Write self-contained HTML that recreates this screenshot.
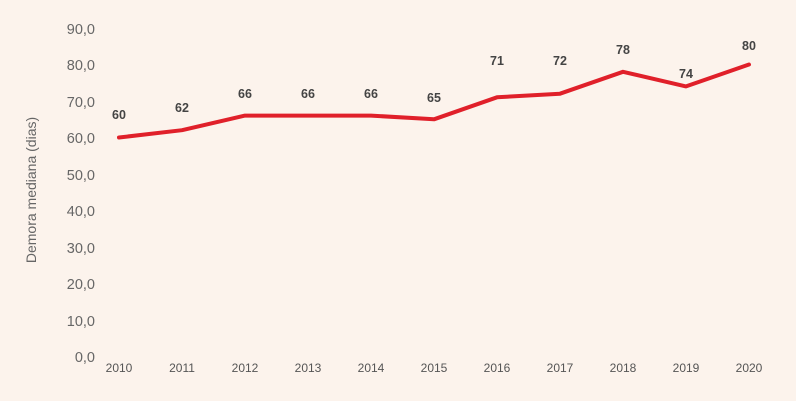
<!DOCTYPE html>
<html><head><meta charset="utf-8"><style>
body{margin:0;background:#fcf3ec;}
svg{display:block;font-family:"Liberation Sans",sans-serif;}
</style></head><body>
<svg width="796" height="401" viewBox="0 0 796 401">
<rect width="796" height="401" fill="#fcf3ec"/>
<g fill="#666" font-size="14.5" text-anchor="end">
<text x="95" y="362">0,0</text>
<text x="95" y="326">10,0</text>
<text x="95" y="289">20,0</text>
<text x="95" y="253">30,0</text>
<text x="95" y="216">40,0</text>
<text x="95" y="180">50,0</text>
<text x="95" y="143">60,0</text>
<text x="95" y="107">70,0</text>
<text x="95" y="70">80,0</text>
<text x="95" y="34">90,0</text>
</g>
<text transform="translate(36,190) rotate(-90)" fill="#666" font-size="14" text-anchor="middle">Demora mediana (dias)</text>
<g fill="#555" font-size="12" text-anchor="middle">
<text x="119" y="372">2010</text><text x="182" y="372">2011</text><text x="245" y="372">2012</text>
<text x="308" y="372">2013</text><text x="371" y="372">2014</text><text x="434" y="372">2015</text>
<text x="497" y="372">2016</text><text x="560" y="372">2017</text><text x="623" y="372">2018</text>
<text x="686" y="372">2019</text><text x="749" y="372">2020</text>
</g>
<polyline fill="none" stroke="#e0202a" stroke-width="4" stroke-linejoin="round" stroke-linecap="round"
points="119,137.5 182,130.2 245,115.6 308,115.6 371,115.6 434,119.3 497,97.3 560,93.7 623,71.8 686,86.4 749,64.5"/>
<g fill="#444" font-size="12.5" font-weight="bold" text-anchor="middle">
<text x="119" y="119">60</text><text x="182" y="112">62</text><text x="245" y="98">66</text>
<text x="308" y="98">66</text><text x="371" y="98">66</text><text x="434" y="102">65</text>
<text x="497" y="65">71</text><text x="560" y="65">72</text><text x="623" y="54">78</text>
<text x="686" y="78">74</text><text x="749" y="50">80</text>
</g>
</svg>
</body></html>
